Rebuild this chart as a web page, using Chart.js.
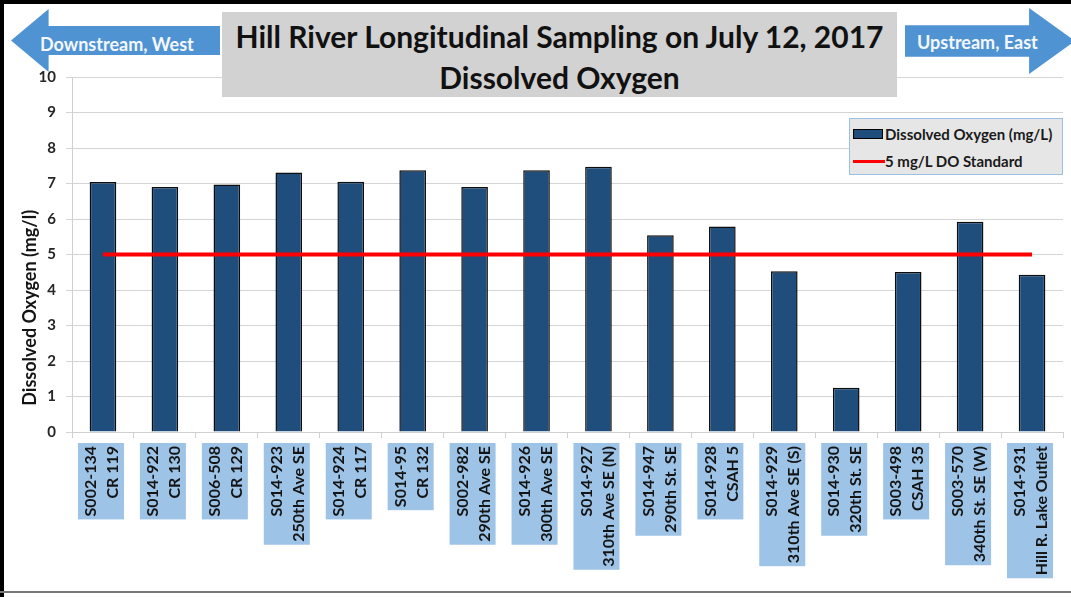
<!DOCTYPE html>
<html>
<head>
<meta charset="utf-8">
<script src="https://cdn.jsdelivr.net/npm/chart.js@4.4.1/dist/chart.umd.min.js"></script>
<style>
  html, body { margin: 0; padding: 0; background: #fff; }
  #wrap { position: relative; width: 1071px; height: 597px; overflow: hidden; font-family: Lato, "Open Sans", sans-serif; }
  #do-chart { position: absolute; left: 0; top: 0; }
  .frame-left { position: absolute; left: 0; top: 0; width: 4px; height: 597px; background: #000; }
  .frame-top { position: absolute; left: 0; top: 0; width: 1071px; height: 4px; background: #000; }
  .frame-bottom { position: absolute; left: 0; top: 591px; width: 1071px; height: 2px; background: #777; }
  .title-box {
    position: absolute; left: 222px; top: 12px; width: 675px; height: 85px;
    background: #d2d2d2; text-align: center; font-weight: bold; font-size: 30px;
    line-height: 41px; color: #111; padding-top: 4px; box-sizing: border-box;
  }
  .arrow {
    position: absolute; background: #4f93d3; color: #f4f8fc; font-weight: bold; font-size: 18px;
    display: flex; align-items: center; box-sizing: border-box;
  }
  .arrow-left {
    left: 11px; top: 9px; width: 209px; height: 63px; padding-left: 29px; padding-top: 6px;
    clip-path: polygon(0 50%, 18% 0, 18% 27%, 100% 27%, 100% 73%, 18% 73%, 18% 100%);
  }
  .arrow-right {
    left: 905px; top: 8px; width: 170px; height: 66px; padding-left: 12px; padding-top: 2px;
    clip-path: polygon(0 26%, 73% 26%, 73% 0, 100% 50%, 73% 100%, 73% 74%, 0 74%);
  }
  .legend {
    position: absolute; left: 849px; top: 118px; width: 214px; height: 57px;
    background: #e6e6e6; border: 1px solid #9cc0e2; box-sizing: border-box;
    font-size: 15px; font-weight: bold; color: #1a1a1a;
  }
  .legend .row { position: absolute; left: 3px; display: flex; align-items: center; line-height: 18px; }
  .legend .sw-bar { width: 28px; height: 8px; border: 1px solid #000; margin-right: 2px; }
  .legend .sw-line { width: 32px; height: 3px; }
</style>
</head>
<body>
<div id="wrap">
  <canvas id="do-chart" width="1071" height="597"></canvas>
  <div class="frame-left"></div>
  <div class="frame-top"></div>
  <div class="frame-bottom"></div>
  <div class="arrow arrow-left">Downstream, West</div>
  <div class="arrow arrow-right">Upstream, East</div>
  <div class="title-box" id="title-box"></div>
  <div class="legend" id="legend"></div>
</div>
<script>
const titleLines = ['Hill River Longitudinal Sampling on July 12, 2017', 'Dissolved Oxygen'];
const yTitle = 'Dissolved Oxygen (mg/l)';

const siteCodes = [
  'S002-134', 'S014-922', 'S006-508', 'S014-923', 'S014-924', 'S014-95', 'S002-982', 'S014-926',
  'S014-927', 'S014-947', 'S014-928', 'S014-929', 'S014-930', 'S003-498', 'S003-570', 'S014-931'
];
const siteNames = [
  'CR 119', 'CR 130', 'CR 129', '250th Ave SE', 'CR 117', 'CR 132', '290th Ave SE', '300th Ave SE',
  '310th Ave SE (N)', '290th St. SE', 'CSAH 5', '310th Ave SE (S)', '320th St. SE', 'CSAH 35',
  '340th St. SE (W)', 'Hill R. Lake Outlet'
];
const doValues = [7.04, 6.90, 6.97, 7.31, 7.05, 7.37, 6.90, 7.37, 7.47, 5.54, 5.79, 4.53, 1.25, 4.51, 5.92, 4.43];
const doStandard = 5;
const yTicks = [0, 1, 2, 3, 4, 5, 6, 7, 8, 9, 10];

const barLabel = 'Dissolved Oxygen (mg/L)';
const lineLabel = '5 mg/L DO Standard';
const barColor = '#1f4e7c';
const lineColor = '#ff0000';

document.getElementById('title-box').innerHTML = titleLines.join('<br>');

const legend = document.getElementById('legend');
legend.innerHTML =
  '<div class="row" style="top:6px"><div class="sw-bar" style="background:' + barColor + '"></div>' + barLabel + '</div>' +
  '<div class="row" style="top:33px"><div class="sw-line" style="background:' + lineColor + '"></div>' + lineLabel + '</div>';

// rotated site labels with light blue boxes, plus the y axis title
const siteLabelPlugin = {
  id: 'siteLabels',
  afterDraw(chart) {
    const ctx = chart.ctx;
    const xScale = chart.scales.x;
    const top = chart.chartArea.bottom + 11;
    const lh = 22;
    ctx.save();
    ctx.font = 'bold 16px Lato, "Open Sans", sans-serif';
    siteCodes.forEach((code, i) => {
      const lines = [code, siteNames[i]];
      const x = xScale.getPixelForTick(i);
      const len = Math.max(...lines.map((l) => ctx.measureText(l).width)) + 6;
      const w = lines.length * lh + 2;
      ctx.save();
      ctx.translate(x - 2, top);
      ctx.rotate(-Math.PI / 2);
      ctx.fillStyle = '#9dc3e6';
      ctx.fillRect(-len, -w / 2, len, w);
      ctx.fillStyle = '#141414';
      ctx.textAlign = 'right';
      ctx.textBaseline = 'middle';
      lines.forEach((l, j) => {
        ctx.fillText(l, -3, (j - (lines.length - 1) / 2) * lh + 1);
      });
      ctx.restore();
    });

    const yScale = chart.scales.y;
    ctx.save();
    ctx.translate(30, yScale.getPixelForValue(3.5));
    ctx.rotate(-Math.PI / 2);
    ctx.font = 'bold 18px Lato, "Open Sans", sans-serif';
    ctx.fillStyle = '#141414';
    ctx.textAlign = 'center';
    ctx.textBaseline = 'middle';
    ctx.fillText(yTitle, 0, 0);
    ctx.restore();
    ctx.restore();
  }
};

new Chart(document.getElementById('do-chart'), {
  data: {
    labels: siteCodes,
    datasets: [
      {
        type: 'line',
        label: lineLabel,
        data: siteCodes.map(() => doStandard),
        borderColor: lineColor,
        borderWidth: 4,
        pointRadius: 0,
        fill: false,
        order: 0
      },
      {
        type: 'bar',
        label: barLabel,
        data: doValues,
        backgroundColor: barColor,
        borderColor: '#0d0d0d',
        borderWidth: 1.5,
        barPercentage: 0.43,
        categoryPercentage: 1,
        order: 1
      }
    ]
  },
  options: {
    responsive: false,
    animation: false,
    layout: { padding: { left: 14, right: 8, top: 77, bottom: 0 } },
    plugins: {
      legend: { display: false },
      tooltip: { enabled: false }
    },
    scales: {
      x: {
        offset: true,
        afterFit: (s) => { s.height = 165; },
        grid: { offset: true, drawOnChartArea: false, tickLength: 6, color: '#d0d0d0' },
        border: { color: '#d0d0d0' },
        ticks: { display: false }
      },
      y: {
        min: 0,
        max: 10,
        afterFit: (s) => { s.width = 58; },
        afterBuildTicks: (s) => { s.ticks = yTicks.map((v) => ({ value: v })); },
        grid: { color: '#d4d4d4', tickLength: 6 },
        border: { color: '#d0d0d0' },
        ticks: {
          padding: 10,
          color: '#262626',
          font: { family: 'Lato, "Open Sans", sans-serif', size: 15, weight: 'bold' }
        }
      }
    }
  },
  plugins: [siteLabelPlugin]
});
</script>
</body>
</html>
